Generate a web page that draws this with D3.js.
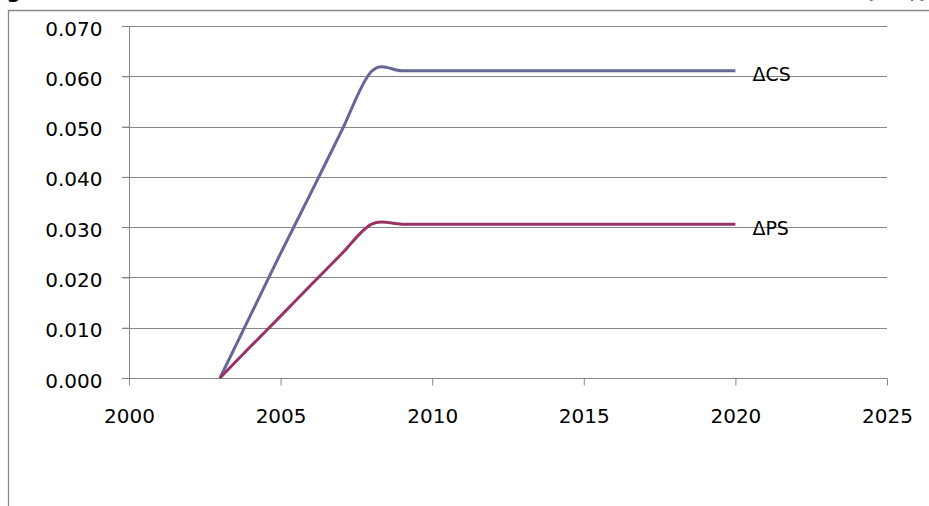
<!DOCTYPE html>
<html>
<head>
<meta charset="utf-8">
<script src="https://cdn.jsdelivr.net/npm/d3@7"></script>
<style>
  body { margin: 0; background: #fff; }
  svg { display: block; font-family: "DejaVu Sans", sans-serif; }
</style>
</head>
<body>
<script>
// data
var years = [2003, 2004, 2005, 2006, 2007, 2008, 2009, 2010, 2011, 2012,
             2013, 2014, 2015, 2016, 2017, 2018, 2019, 2020];
var csValues = [0, 0.0124, 0.0248, 0.0368, 0.0490, 0.0610, 0.0611, 0.0611, 0.0611, 0.0611,
                0.0611, 0.0611, 0.0611, 0.0611, 0.0611, 0.0611, 0.0611, 0.0611];
var psValues = [0, 0.0062, 0.0123, 0.0185, 0.0246, 0.0306, 0.0306, 0.0306, 0.0306, 0.0306,
                0.0306, 0.0306, 0.0306, 0.0306, 0.0306, 0.0306, 0.0306, 0.0306];
var seriesNames = ["\u0394CS", "\u0394PS"];
var seriesColors = ["#666699", "#993366"];
var xTicks = [2000, 2005, 2010, 2015, 2020, 2025];
var yTicks = [0, 0.01, 0.02, 0.03, 0.04, 0.05, 0.06, 0.07];

var width = 929, height = 506;

var svg = d3.select("body").append("svg")
    .attr("width", width)
    .attr("height", height);

// chart frame (only top and left edges are visible in the crop)
svg.append("path")
    .attr("d", "M8.5," + height + "V10.5H" + width)
    .attr("fill", "none")
    .attr("stroke", "#8a8a8a")
    .attr("stroke-width", 1.3);

// title, mostly cut off above the frame
svg.append("text")
    .attr("x", -14).attr("y", -2)
    .attr("font-weight", "bold").attr("font-size", 20)
    .text("Figure");
svg.append("text")
    .attr("x", 928).attr("y", -2)
    .attr("text-anchor", "end")
    .attr("font-weight", "bold").attr("font-size", 20)
    .text("(US$)");

var x = d3.scaleLinear().domain([2000, 2025]).range([129, 887]);
var y = d3.scaleLinear().domain([0, 0.07]).range([378, 26]);

// gridlines
svg.append("g")
    .selectAll("line")
    .data(yTicks.slice(1))
    .enter().append("line")
    .attr("x1", 122).attr("x2", 887)
    .attr("y1", function (d) { return Math.round(y(d)) + 0.5; })
    .attr("y2", function (d) { return Math.round(y(d)) + 0.5; })
    .attr("stroke", "#868686");

// y axis
var yAxis = svg.append("g")
    .attr("transform", "translate(129.5,0)")
    .call(d3.axisLeft(y).tickValues(yTicks).tickFormat(d3.format(".3f")).tickSize(7).tickPadding(20));
yAxis.select(".domain").attr("stroke", "#868686").attr("d", "M0,378V26");
yAxis.selectAll(".tick line").attr("stroke", "#868686");
yAxis.selectAll(".tick text")
    .attr("font-size", 20).attr("fill", "#000")
    .attr("font-family", "DejaVu Sans").attr("dy", "0.45em");

// x axis
var xAxis = svg.append("g")
    .attr("transform", "translate(0,378.5)")
    .call(d3.axisBottom(x).tickValues(xTicks).tickFormat(d3.format("d")).tickSize(7).tickPadding(23));
xAxis.select(".domain").attr("stroke", "#868686").attr("d", "M122,0H887");
xAxis.selectAll(".tick line").attr("stroke", "#868686");
xAxis.selectAll(".tick text")
    .attr("font-size", 20).attr("fill", "#000")
    .attr("font-family", "DejaVu Sans");

// smoothed lines like the spreadsheet
var line = d3.line()
    .x(function (d) { return x(d[0]); })
    .y(function (d) { return y(d[1]); })
    .curve(d3.curveCardinal.tension(0));

[csValues, psValues].forEach(function (vals, i) {
    var pts = years.map(function (yr, j) { return [yr, vals[j]]; });
    svg.append("path")
        .datum(pts)
        .attr("d", line)
        .attr("fill", "none")
        .attr("stroke", seriesColors[i])
        .attr("stroke-width", 3)
        .attr("stroke-linejoin", "round");

    var last = pts[pts.length - 1];
    svg.append("text")
        .attr("x", x(last[0]) + 17)
        .attr("y", y(last[1]) + 4)
        .attr("dy", "0.35em")
        .attr("font-size", 19)
        .text(seriesNames[i]);
});
</script>
</body>
</html>
